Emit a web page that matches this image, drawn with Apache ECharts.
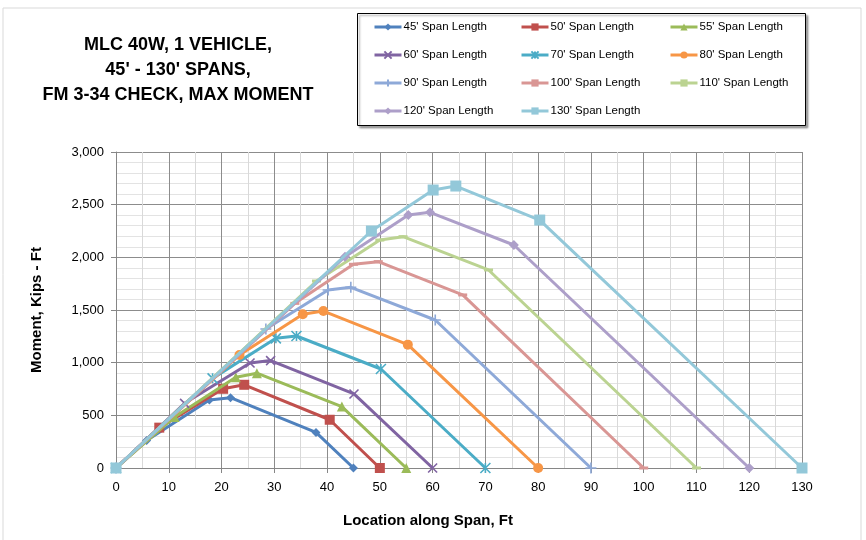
<!DOCTYPE html>
<html><head><meta charset="utf-8">
<script src="https://cdn.jsdelivr.net/npm/echarts@6/dist/echarts.min.js"></script>
<style>html,body{margin:0;padding:0;background:#fff}#c{width:866px;height:540px}</style>
</head><body><div id="c"></div>
<script>
// ---- data ----
const seriesNames = ["45' Span Length","50' Span Length","55' Span Length","60' Span Length","70' Span Length","80' Span Length","90' Span Length","100' Span Length","110' Span Length","120' Span Length","130' Span Length"];
const x45 = [0, 5.8, 17.7, 21.7, 37.9, 45];   const y45 = [0, 262, 645, 668, 338, 0];
const x50 = [0, 8.2, 20.3, 24.3, 40.5, 50];   const y50 = [0, 383, 752, 790, 458, 0];
const x55 = [0, 11.1, 22.7, 26.7, 42.8, 55];  const y55 = [0, 485, 862, 900, 583, 0];
const x60 = [0, 13.0, 25.4, 29.3, 45.1, 60];  const y60 = [0, 614, 997, 1020, 703, 0];
const x70 = [0, 18.3, 30.3, 34.2, 50.2, 70];  const y70 = [0, 851, 1231, 1253, 940, 0];
const x80 = [0, 23.4, 35.4, 39.3, 55.3, 80];  const y80 = [0, 1073, 1459, 1490, 1171, 0];
const x90 = [0, 28.4, 40.2, 44.5, 60.5, 90];  const y90 = [0, 1320, 1690, 1715, 1405, 0];
const x100 = [0, 33.9, 45.0, 49.7, 65.7, 100]; const y100 = [0, 1563, 1934, 1959, 1643, 0];
const x110 = [0, 38.0, 50.0, 54.4, 70.6, 110]; const y110 = [0, 1775, 2164, 2196, 1880, 0];
const x120 = [0, 43.4, 55.4, 59.5, 75.4, 120]; const y120 = [0, 2006, 2402, 2427, 2117, 0];
const x130 = [0, 48.4, 60.1, 64.4, 80.3, 130]; const y130 = [0, 2250, 2639, 2677, 2354, 0];
const xTicks = [0,10,20,30,40,50,60,70,80,90,100,110,120,130];
const yTicks = [0,500,1000,1500,2000,2500,3000];

const xs = [x45,x50,x55,x60,x70,x80,x90,x100,x110,x120,x130];
const ys = [y45,y50,y55,y60,y70,y80,y90,y100,y110,y120,y130];

// ---- styles ----
const colors = ['#4F81BD','#C0504D','#9BBB59','#8064A2','#4BACC6','#F79646','#8EA9D8','#D99694','#BBD391','#AD9FC9','#93C8D9'];
const X_PATH = 'path://M0,0L10,10M10,0L0,10';
const AST_PATH = 'path://M0,0L10,10M10,0L0,10M5,0L5,10';
const PLUS_PATH = 'path://M0,5L10,5M5,0L5,10';
const symbols = ['diamond','rect','triangle',X_PATH,AST_PATH,'circle',PLUS_PATH,'rect','rect','diamond','rect'];
const symSizes = [9,10,10,9,10,10,11,[9,3],[9,3],10,11];
const strokeSym = [false,false,false,true,true,false,true,false,false,false,false];

const FONT = "'Liberation Sans Narrow','Liberation Sans',Arial,sans-serif";

const series = seriesNames.map((n,i)=>({
  name:n, type:'line',
  data: xs[i].map((x,j)=>[x, ys[i][j]]),
  symbol: symbols[i], symbolSize: symSizes[i], showSymbol:true,
  lineStyle:{color:colors[i], width:3},
  itemStyle:{color:colors[i], borderColor:colors[i], borderWidth: strokeSym[i]?1.6:0},
  emphasis:{disabled:true},
  animation:false, z:2+i
}));

const colX = [373, 520, 669];
const rowY = [27, 55, 83, 111];
const legends = seriesNames.map((n,i)=>({
  data:[n], left: colX[i%3], top: rowY[Math.floor(i/3)]-6,
  itemWidth:27, itemHeight:9, itemGap:0,
  lineStyle:{width:3},
  textStyle:{fontFamily:FONT, fontSize:11.5, color:'#000', padding:[0,0,0,-3]},
  selectedMode:false, padding:0
}));

const chart = echarts.init(document.getElementById('c'), null, {renderer:'canvas'});
chart.setOption({
  animation:false,
  backgroundColor:'#fff',
  color: colors,
  title:{
    text:"MLC 40W, 1 VEHICLE,\n45' - 130' SPANS,\nFM 3-34 CHECK, MAX MOMENT",
    left:173, top:28, textAlign:'center',
    textStyle:{fontFamily:FONT, fontWeight:'bold', fontSize:18, lineHeight:25, color:'#000'}
  },
  legend: legends,
  graphic:[
    {type:'rect', shape:{x:3, y:8, width:858, height:540}, style:{fill:'none', stroke:'#D9D9D9', lineWidth:1}, silent:true, z:-1},
    {type:'rect', shape:{x:357.5, y:13.5, width:448, height:112}, style:{fill:'#fff', stroke:'#000', lineWidth:1, shadowColor:'rgba(0,0,0,0.35)', shadowOffsetX:2, shadowOffsetY:2, shadowBlur:2}, silent:true, z:-1},
    {type:'text', x:428, y:521, style:{text:'Location along Span, Ft', fontFamily:FONT, fontWeight:'bold', fontSize:15, fill:'#000', textAlign:'center', textVerticalAlign:'middle'}, silent:true}
  ],
  grid:{left:116, right:64, top:152, bottom:72, containLabel:false},
  xAxis:{
    type:'value', min:0, max:130, interval:10,
    axisLine:{show:true, onZero:false, lineStyle:{color:'#868686', width:1}},
    axisTick:{show:true, length:5, lineStyle:{color:'#868686'}},
    axisLabel:{fontFamily:FONT, fontSize:13, color:'#000', margin:13},
    splitLine:{show:true, lineStyle:{color:'#8C8C8C', width:1}},
    minorTick:{show:false, splitNumber:2},
    minorSplitLine:{show:true, lineStyle:{color:'#D9D9D9', width:1}}
  },
  yAxis:{
    type:'value', min:0, max:3000, interval:500,
    name:'Moment, Kips - Ft', nameLocation:'middle', nameGap:72, nameRotate:90,
    nameTextStyle:{fontFamily:FONT, fontWeight:'bold', fontSize:15, color:'#000'},
    axisLine:{show:true, lineStyle:{color:'#868686', width:1}},
    axisTick:{show:true, length:5, lineStyle:{color:'#868686'}},
    axisLabel:{fontFamily:FONT, fontSize:13, color:'#000', margin:12,
      formatter:v=>v.toLocaleString('en-US')},
    splitLine:{show:true, lineStyle:{color:'#8C8C8C', width:1}},
    minorTick:{show:false, splitNumber:5},
    minorSplitLine:{show:true, lineStyle:{color:'#E3E3E3', width:1}}
  },
  series: series
});
</script></body></html>
